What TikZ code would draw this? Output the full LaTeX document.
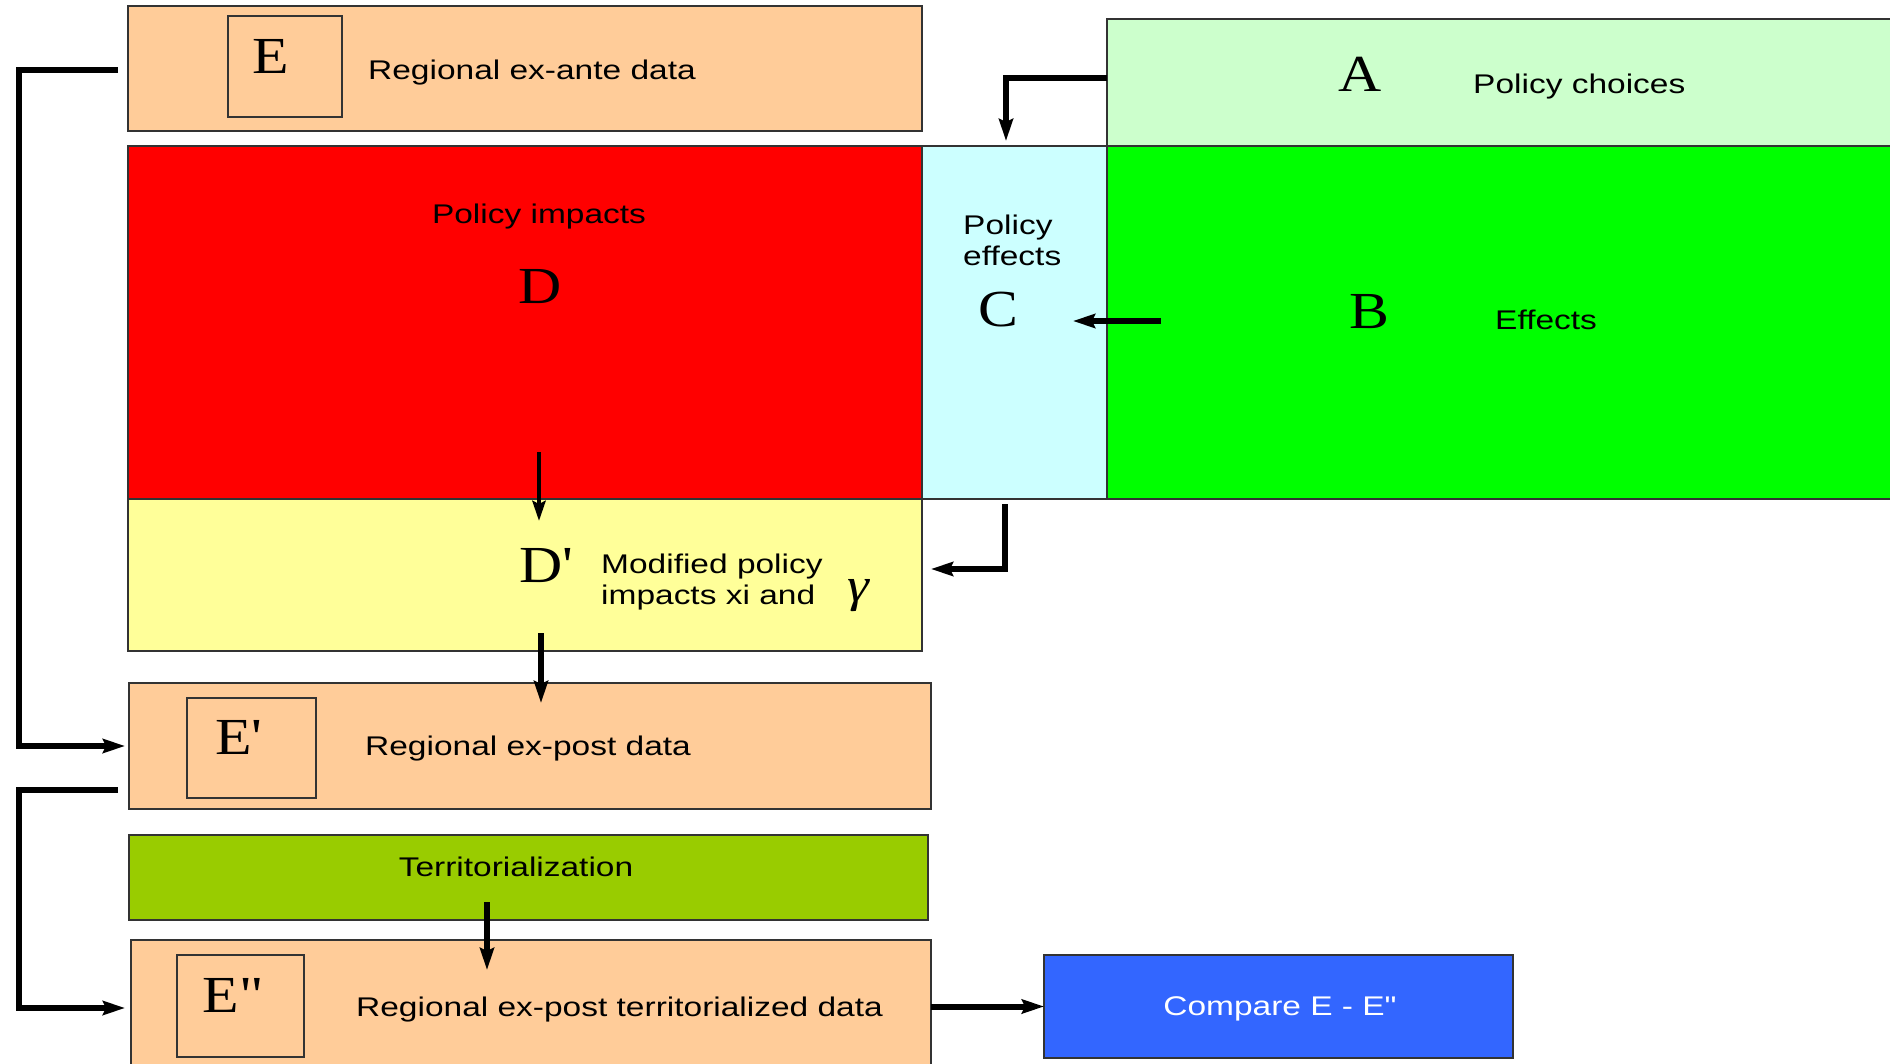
\documentclass[tikz,border=0pt]{standalone}
\usepackage{fontspec}
\setmainfont{Liberation Sans}[FakeStretch=1.24, Ligatures=TeXOff]
\newfontfamily\serifl{Liberation Serif}[FakeStretch=1.15, Ligatures=TeXOff]
\usetikzlibrary{fit,arrows.meta}
\definecolor{peach}{HTML}{FFCC99}
\definecolor{lgreen}{HTML}{CCFFCC}
\definecolor{lcyan}{HTML}{CCFFFF}
\definecolor{lyellow}{HTML}{FFFF99}
\definecolor{olive}{HTML}{99CC00}
\definecolor{blue2}{HTML}{3366FF}
\definecolor{edge}{HTML}{333333}
\tikzset{
  box/.style={draw=edge, line width=1.5pt, inner sep=0pt, outer sep=0pt},
  lbl/.style={inner sep=0pt, font=\fontsize{27}{31}\selectfont, text=black},
  big/.style={inner sep=0pt, font=\serifl\fontsize{52}{56}\selectfont},
  arr/.style={line width=6pt, -{Stealth[length=22pt,width=14pt,inset=3pt]}},
  arrthin/.style={line width=4.5pt, -{Stealth[length=20pt,width=13pt,inset=3pt]}},
}
\begin{document}
\begin{tikzpicture}[x=1pt,y=-1pt]
\useasboundingbox (0,0) rectangle (1890,1064);
\fill[white] (0,0) rectangle (1890,1064);

% boxes
\node[box, fill=peach, fit={(128,6)(922,131)}] (E) {};
\node[box, fit={(228,16)(342,117)}] (Ein) {};
\node[box, fill=lgreen, fit={(1107,19)(1900,146)}] (A) {};
\node[box, fill=red, fit={(128,146)(922,499)}] (D) {};
\node[box, fill=lcyan, fit={(922,146)(1107,499)}] (C) {};
\node[box, fill=green, fit={(1107,146)(1900,499)}] (B) {};
\node[box, fill=lyellow, fit={(128,499)(922,651)}] (Dp) {};
\node[box, fill=peach, fit={(129,683)(931,809)}] (Ep) {};
\node[box, fit={(187,698)(316,798)}] (Epin) {};
\node[box, fill=olive, fit={(129,835)(928,920)}] (T) {};
\node[box, fill=peach, fit={(131,940)(931,1075)}] (Epp) {};
\node[box, fit={(177,955)(304,1057)}] (Eppin) {};
\node[box, fill=blue2, fit={(1044,955)(1513,1058)}] (Cmp) {};

% texts
\node[big] (Et) at (271,56) {E};
\node[lbl, anchor=west] (Etxt) at (368,73) {Regional ex-ante data};
\node[big] (At) at (1360,74) {A};
\node[lbl, anchor=west] (Atxt) at (1473,87) {Policy choices};
\node[lbl] (Dtxt) at (539,217) {Policy impacts};
\node[big] (Dt) at (540,287) {D};
\node[lbl, anchor=west, align=left] (Ctxt) at (963,240) {Policy\\effects};
\node[big] (Ct) at (998,310) {C};
\node[big] (Bt) at (1369,312) {B};
\node[lbl, anchor=west] (Btxt) at (1495,320) {Effects};
\node[big] (Dpt) at (546,566) {D'};
\node[lbl, anchor=west, align=left] (Dptxt) at (601,582) {Modified policy\\impacts xi and};
\node[inner sep=0pt, font=\serifl\itshape\fontsize{48}{52}\selectfont] (gam) at (858,596) {γ};
\node[big] (Ept) at (239,737) {E'};
\node[lbl, anchor=west] (Eptxt) at (365,749) {Regional ex-post data};
\node[lbl] (Ttxt) at (516,867) {Territorialization};
\node[big] (Eppt) at (233,995) {E"};
\node[lbl, anchor=west] (Epptxt) at (356,1010) {Regional ex-post territorialized data};
\node[lbl, text=white] (Cmptxt) at (1280,1009) {Compare E - E"};

% connector coordinates
\coordinate (a1) at (1006,141);
\coordinate (b1) at (1161,321);
\coordinate (c1) at (1073,321);
\coordinate (d1) at (539,452);
\coordinate (d2) at (539,521);
\coordinate (cs) at (1005,504);
\coordinate (dpe) at (931,569);
\coordinate (dp1) at (541,633);
\coordinate (ep1) at (541,703);
\coordinate (e1) at (118,70);
\coordinate (left1) at (19,70);
\coordinate (ep2) at (125,746);
\coordinate (ep3) at (118,790);
\coordinate (left2) at (19,790);
\coordinate (epp1) at (125,1008);
\coordinate (t1) at (487,902);
\coordinate (t2) at (487,970);

% connectors
\draw[arr] (A.west |- 0,78) -| (a1);
\draw[arr] (b1) -- (c1);
\draw[arrthin] (d1) -- (d2);
\draw[arr] (cs) |- (dpe);
\draw[arr] (dp1) -- (ep1);
\draw[arr] (e1) -- (left1) |- (ep2);
\draw[arr] (ep3) -- (left2) |- (epp1);
\draw[arr] (t1) -- (t2);
\draw[arr] (Epp.east |- Cmp.west) -- (Cmp.west);
\end{tikzpicture}
\end{document}
